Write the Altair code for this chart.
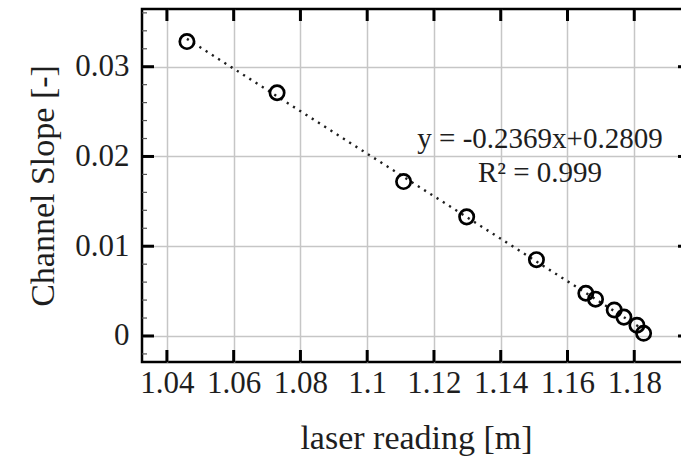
import altair as alt
import pandas as pd

# Measured points: laser reading [m] vs. channel slope [-]
laser_reading = [1.0460, 1.0730, 1.1109, 1.1298, 1.1507, 1.1655,
                 1.1684, 1.1740, 1.1769, 1.1808, 1.1828]
channel_slope = [0.0328, 0.0271, 0.0172, 0.01327, 0.0085, 0.00476,
                 0.0041, 0.0029, 0.0021, 0.0012, 0.0003]

# Linear fit reported on the chart
fit_slope = -0.2369
fit_intercept = 0.2809
fit_text = ["y = -0.2369x+0.2809", "R² = 0.999"]

# Tick positions
x_major = [1.04, 1.06, 1.08, 1.10, 1.12, 1.14, 1.16, 1.18]
y_major = [0.0, 0.01, 0.02, 0.03]
y_minor = [-0.002, 0.002, 0.004, 0.006, 0.008, 0.012, 0.014, 0.016, 0.018,
           0.022, 0.024, 0.026, 0.028, 0.032, 0.034, 0.036]

FONT = "Liberation Serif"
INK = "#1e1e1e"
W, H = 548, 353

x_scale = alt.Scale(domain=[1.03254, 1.1967], nice=False, zero=False)
y_scale = alt.Scale(domain=[-0.0029, 0.03643], nice=False, zero=False)

x_axis = alt.Axis(
    values=x_major, format="~g", grid=True, gridColor="#c6c6c6", gridWidth=1.5,
    ticks=False, tickSize=0, domain=False, labelFont=FONT, labelFontSize=31,
    labelColor=INK, labelPadding=6, labelFlush=False, labelOverlap=False,
    title="laser reading [m]", titleFont=FONT, titleFontSize=34,
    titleFontWeight="normal", titleColor=INK, titleBaseline="alphabetic",
    titleAlign="center", titleX=W / 2, titleY=86,
)
y_axis = alt.Axis(
    values=y_major, format="~g", grid=True, gridColor="#c6c6c6", gridWidth=1.5,
    ticks=False, tickSize=0, domain=False, labelFont=FONT, labelFontSize=31,
    labelColor=INK, labelPadding=13, labelOverlap=False,
    title="Channel Slope [-]", titleFont=FONT, titleFontSize=34,
    titleFontWeight="normal", titleColor=INK, titleBaseline="alphabetic",
    titleAlign="center", titleAngle=270, titleX=-89, titleY=H / 2,
)

data = pd.DataFrame({"laser": laser_reading, "slope": channel_slope})

fit_line = (
    alt.Chart(data)
    .transform_calculate(fit=f"{fit_slope} * datum.laser + {fit_intercept}")
    .mark_line(color=INK, strokeWidth=2.4, strokeDash=[2.2, 5.2])
    .encode(
        x=alt.X("laser:Q", scale=x_scale, axis=x_axis),
        y=alt.Y("fit:Q", scale=y_scale, axis=y_axis),
        order="laser:Q",
    )
)

points = (
    alt.Chart(data)
    .mark_point(shape="circle", filled=False, color="black", strokeWidth=2.7,
                size=205, opacity=1)
    .encode(
        x=alt.X("laser:Q", scale=x_scale, axis=x_axis),
        y=alt.Y("slope:Q", scale=y_scale, axis=y_axis),
    )
)

xt = pd.DataFrame({"v": x_major})
yt = pd.DataFrame({"v": y_major})
ym = pd.DataFrame({"v": y_minor})

def x_ticks(y0, y1):
    return alt.Chart(xt).mark_rule(color="black", strokeWidth=3).encode(
        x=alt.X("v:Q", scale=x_scale, axis=x_axis),
        y=alt.value(y0), y2=alt.value(y1),
    )

def y_ticks(frame, x0, x1, width, color):
    return alt.Chart(frame).mark_rule(color=color, strokeWidth=width).encode(
        y=alt.Y("v:Q", scale=y_scale, axis=y_axis),
        x=alt.value(x0), x2=alt.value(x1),
    )

ticks = [
    x_ticks(H - 12, H),
    x_ticks(0, 12),
    y_ticks(yt, 0, 12, 3, "black"),
    y_ticks(yt, W - 12, W, 3, "black"),
    y_ticks(ym, 0, 5, 1.2, "#555555"),
    y_ticks(ym, W - 5, W, 1.2, "#555555"),
]

label = (
    alt.Chart(pd.DataFrame({"k": [0]}))
    .mark_text(text=fit_text, align="center", baseline="alphabetic", font=FONT,
               fontSize=29, lineHeight=33.7, color=INK)
    .encode(x=alt.value(398), y=alt.value(139))
)

chart = (
    alt.layer(fit_line, points, *ticks, label)
    .properties(
        width=W, height=H,
        padding={"left": 142, "top": 9, "right": -9, "bottom": 96},
        autosize=alt.AutoSizeParams(type="none"),
        background="white",
    )
    .configure_view(stroke="black", strokeWidth=2.5)
)

chart.save("out.html", embed_options={"renderer": "svg", "actions": False})
